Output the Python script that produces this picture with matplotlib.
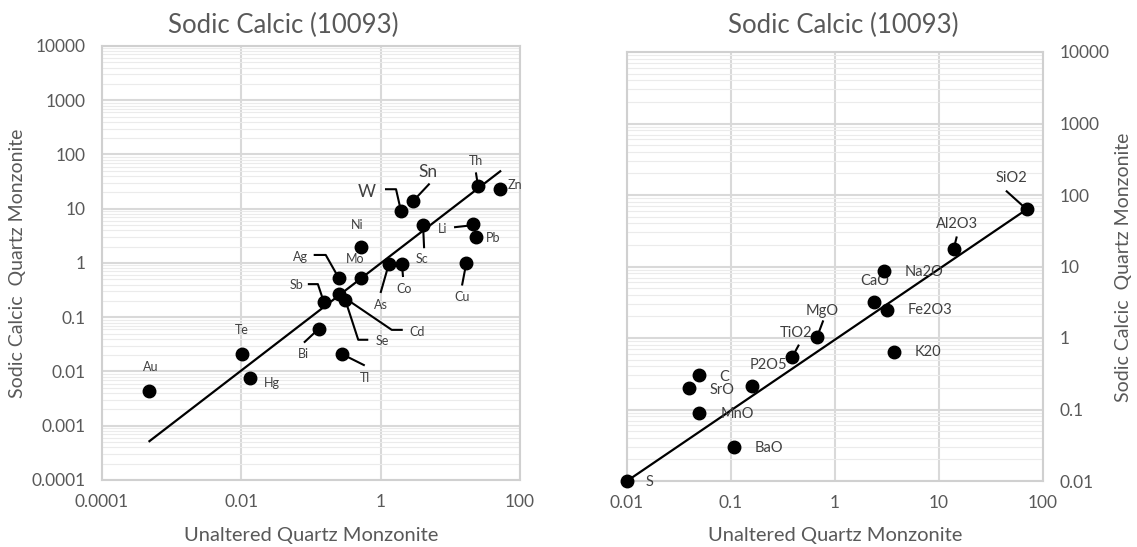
import matplotlib.pyplot as plt
import matplotlib.transforms as mtransforms
from matplotlib.ticker import LogLocator, FixedLocator, FuncFormatter, NullFormatter, NullLocator

plt.rcParams['font.family'] = ['Lato', 'DejaVu Sans']

title = 'Sodic Calcic (10093)'
xlabel = 'Unaltered Quartz Monzonite'
ylabel = 'Sodic Calcic  Quartz Monzonite'

# left chart: trace elements
trace_names = ['Au', 'Te', 'Hg', 'Bi', 'Tl', 'Sb', 'Cd', 'Se', 'Ag', 'Mo', 'Ni',
               'As', 'Co', 'W', 'Sn', 'Sc', 'Th', 'Zn', 'Li', 'Pb', 'Cu']
trace_x = [0.00048, 0.0101, 0.0132, 0.129, 0.277, 0.153, 0.25, 0.31, 0.25, 0.52, 0.52,
           1.31, 2.02, 1.96, 2.9, 4.06, 25, 52, 21.2, 23.5, 16.9]
trace_y = [0.0044, 0.021, 0.0075, 0.061, 0.021, 0.19, 0.27, 0.21, 0.53, 0.53, 1.97,
           0.96, 0.96, 9.0, 13.7, 4.98, 25.8, 22.8, 5.2, 3.0, 0.98]
trace_fit_x = [0.00048, 52]
trace_fit_y = [0.00052, 49]
trace_xticks = [0.0001, 0.01, 1, 100]

# right chart: major oxides
oxide_names = ['S', 'BaO', 'MnO', 'SrO', 'C', 'P2O5', 'TiO2', 'MgO', 'CaO',
               'Na2O', 'Fe2O3', 'K20', 'Al2O3', 'SiO2']
oxide_x = [0.01, 0.108, 0.0496, 0.0395, 0.0496, 0.158, 0.39, 0.67, 2.37,
           2.96, 3.14, 3.69, 13.8, 69.7]
oxide_y = [0.01, 0.030, 0.090, 0.20, 0.30, 0.215, 0.55, 1.02, 3.2,
           8.6, 2.47, 0.63, 17.3, 63]
oxide_fit_x = [0.01, 69.7]
oxide_fit_y = [0.01, 63]
oxide_xticks = [0.01, 0.1, 1, 10, 100]

# label placement in pixels from the point: (dx, dy, big font, leader line)
trace_layout = {
    'Au': (1, 24, False, None), 'Te': (0, 24, False, None), 'Hg': (22, -5, False, None),
    'Bi': (-15, -25, False, [(0, 0), (-14, -13)]),
    'Tl': (23, -24, False, [(0, 0), (22, -11)]),
    'Sb': (-27, 17, False, [(-15, 18), (-6, 18), (0, 0)]),
    'Cd': (78, -38, False, [(0, 0), (53, -36), (63, -36)]),
    'Se': (37, -41, False, [(0, 0), (13, -40), (22, -40)]),
    'Ag': (-38, 21, False, [(-24, 23), (-13, 23), (0, 0)]),
    'Mo': (-6, 19, False, None), 'Ni': (-4, 22, False, None),
    'As': (-8, -41, False, [(-8, -28), (0, 0)]),
    'Co': (2, -25, False, [(0, 0), (1, -12)]),
    'W': (-34, 19, True, [(-15, 22), (-5, 22), (0, 0)]),
    'Sn': (15, 29, True, [(0, 0), (16, 17)]),
    'Sc': (-1, -34, False, [(0, 0), (1, -22)]),
    'Th': (-2, 25, False, [(-2, 13), (0, 0)]),
    'Zn': (15, 4, False, None),
    'Li': (-30, -5, False, [(-18, -3), (0, -1)]),
    'Pb': (17, -1, False, None),
    'Cu': (-4, -34, False, [(0, 0), (-4, -21)]),
}
oxide_layout = {
    'S': (23, -1, False, None), 'BaO': (34, -1, False, None), 'MnO': (38, -1, False, None),
    'SrO': (33, -2, False, None), 'C': (25, -2, False, None), 'P2O5': (17, 21, False, None),
    'TiO2': (4, 24, False, [(0, 0), (6, 11)]),
    'MgO': (5, 26, False, [(0, 0), (6, 16)]),
    'CaO': (1, 21, False, None), 'Na2O': (40, -1, False, None),
    'Fe2O3': (43, 0, False, None), 'K20': (34, 0, False, None),
    'Al2O3': (3, 25, False, [(0, 0), (3, 12)]),
    'SiO2': (-15, 31, False, [(-20, 18), (0, 0)]),
}

fig = plt.figure(figsize=(11.37, 5.47), dpi=100)
ax1 = fig.add_axes([102 / 1137, 1 - 480 / 547, 418 / 1137, 434 / 547])
ax2 = fig.add_axes([627 / 1137, 1 - 481 / 547, 416 / 1137, 429 / 547])


def style_axes(ax, xlim, ylim, xticks):
    ax.set_xscale('log')
    ax.set_yscale('log')
    ax.set_xlim(*xlim)
    ax.set_ylim(*ylim)
    ax.xaxis.set_major_locator(FixedLocator(xticks))
    ax.xaxis.set_minor_locator(NullLocator())
    ax.yaxis.set_major_locator(LogLocator(base=10, numticks=20))
    ax.yaxis.set_minor_locator(LogLocator(base=10, subs=range(2, 10), numticks=20))
    fmt = FuncFormatter(lambda v, p: f'{v:g}' if v < 1e4 else f'{v:.0f}')
    ax.xaxis.set_major_formatter(fmt)
    ax.yaxis.set_major_formatter(fmt)
    ax.yaxis.set_minor_formatter(NullFormatter())
    ax.grid(True, which='major', color='#d9d9d9', lw=1.5)
    ax.grid(True, which='minor', axis='y', color='#ebebeb', lw=0.8)
    ax.set_axisbelow(True)
    ax.tick_params(which='both', length=0, labelsize=12.5, labelcolor='#595959')
    ax.tick_params(axis='x', pad=10)
    ax.tick_params(axis='y', pad=12)
    for s in ax.spines.values():
        s.set_color('#d0d0d0')
        s.set_linewidth(1.5)


def label_points(ax, names, xs, ys, layout, size):
    for name, x, y in zip(names, xs, ys):
        dx, dy, big, path = layout[name]
        ax.annotate(name, (x, y), xytext=(dx, dy), textcoords='offset pixels',
                    ha='center', va='center', fontsize=12.5 if big else size,
                    color='#404040')
        if path:
            tr = mtransforms.IdentityTransform() + mtransforms.ScaledTranslation(x, y, ax.transData)
            ax.plot([p[0] for p in path], [p[1] for p in path], transform=tr,
                    color='black', lw=1.5, clip_on=False)


style_axes(ax1, (1e-4, 100), (1e-4, 1e4), trace_xticks)
style_axes(ax2, (0.01, 100), (0.01, 1e4), oxide_xticks)
ax2.yaxis.tick_right()

ax1.plot(trace_fit_x, trace_fit_y, color='black', lw=1.6, zorder=3)
ax1.plot(trace_x, trace_y, 'o', color='black', ms=9, zorder=4, clip_on=False)
label_points(ax1, trace_names, trace_x, trace_y, trace_layout, 9)

ax2.plot(oxide_fit_x, oxide_fit_y, color='black', lw=1.6, zorder=3)
ax2.plot(oxide_x, oxide_y, 'o', color='black', ms=9, zorder=4, clip_on=False)
label_points(ax2, oxide_names, oxide_x, oxide_y, oxide_layout, 10.5)

fig.text(283 / 1137, 1 - 25 / 547, title, ha='center', va='center', fontsize=18.5, color='#595959')
fig.text(843 / 1137, 1 - 25 / 547, title, ha='center', va='center', fontsize=18.5, color='#595959')
fig.text(311 / 1137, 1 - 536 / 547, xlabel, ha='center', va='center', fontsize=14.5, color='#595959')
fig.text(835 / 1137, 1 - 536 / 547, xlabel, ha='center', va='center', fontsize=14.5, color='#595959')
fig.text(18 / 1137, 1 - 263 / 547, ylabel, ha='center', va='center', rotation=90, fontsize=14, color='#595959')
fig.text(1124 / 1137, 1 - 267 / 547, ylabel, ha='center', va='center', rotation=90, fontsize=14, color='#595959')

fig.savefig('out.png', dpi=100)
